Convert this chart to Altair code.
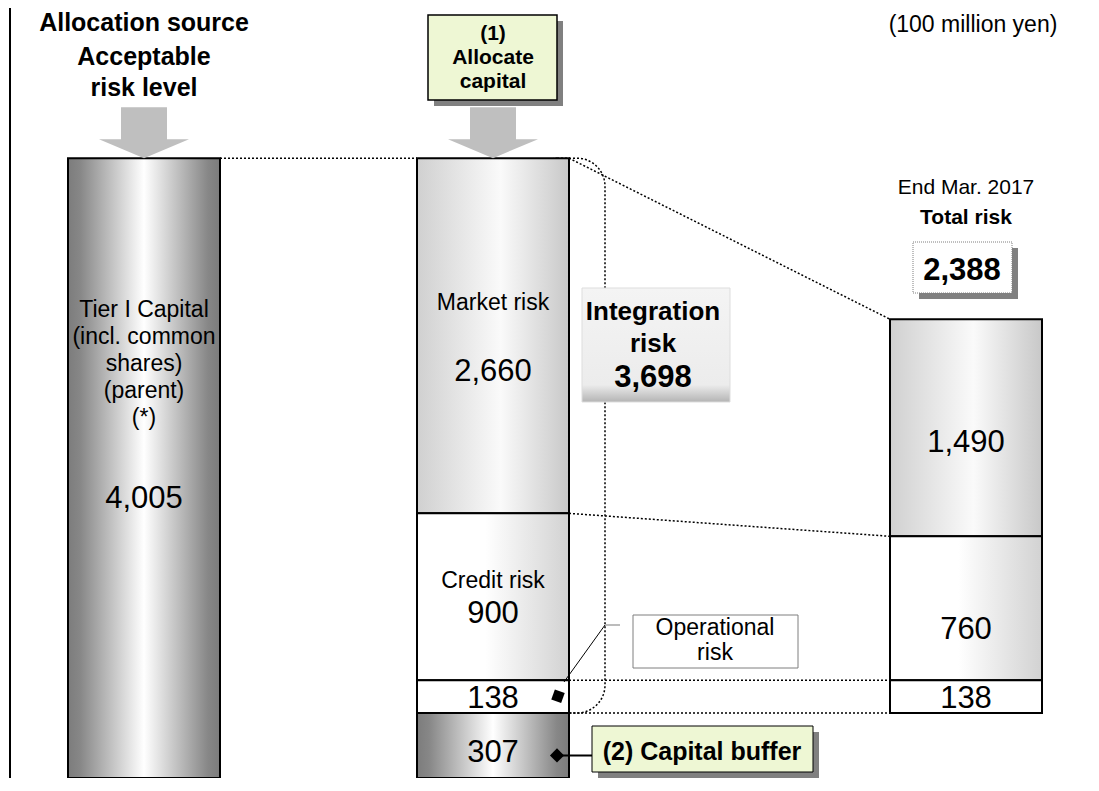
import altair as alt
import pandas as pd

# ---------------- data (100 million yen) ----------------
source_names = ["Tier I Capital"]
source_values = [4005]
alloc_names = ["Capital buffer", "Operational risk", "Credit risk", "Market risk"]
alloc_values = [307, 138, 900, 2660]
total_names = ["Operational risk", "Credit risk", "Market risk"]
total_values = [138, 760, 1490]
period_label = "End Mar. 2017"
unit_label = "(100 million yen)"

# ---------------- layout ----------------
W, H = 1083, 770
FONT = "Liberation Sans"
COLX = {"source": 136, "alloc": 485, "total": 958}
HALF = 76
STYLE = {"Tier I Capital": "dark", "Capital buffer": "dark", "Operational risk": "white",
         "Credit risk": "half", "Market risk": "light"}

rows = []


def add(col, names, values, base):
    s = base
    for n, v in zip(names, values):
        rows.append(dict(col=col, seg=n, value=v, start=s, end=s + v, mid=(2 * s + v) / 2,
                         x0=COLX[col] - HALF, x1=COLX[col] + HALF, cx=COLX[col],
                         style=STYLE[n], text=f"{v:,}"))
        s += v


add("source", source_names, source_values, 0)
add("alloc", alloc_names, alloc_values, 0)
add("total", total_names, total_values, alloc_values[0])
bars = pd.DataFrame(rows)

X = alt.Scale(domain=[0, W], nice=False, zero=False)
Y = alt.Scale(type="pow", exponent=0.7, domain=[86, 5357], clamp=True, nice=False, zero=False)


def gx(stops):
    return alt.Gradient(gradient="linear", x1=0, x2=1, y1=0, y2=0,
                        stops=[alt.GradientStop(color=c, offset=o) for o, c in stops])


GRAD = {
    "dark": gx([(0, "#7c7c7c"), (0.08, "#878787"), (0.5, "#ffffff"), (0.92, "#878787"), (1, "#7c7c7c")]),
    "light": gx([(0, "#d0d0d0"), (0.55, "#fafafa"), (1, "#c8c8c8")]),
    "half": gx([(0, "#ffffff"), (0.45, "#ffffff"), (1, "#d2d2d2")]),
    "white": "#ffffff",
}

one = pd.DataFrame({"k": [0]})


def box(x0, y0, x1, y1, **mk):
    return alt.Chart(one).mark_rect(**mk).encode(
        x=alt.value(x0), x2=alt.value(x1), y=alt.value(y0), y2=alt.value(y1))


def label(text, x, y, size, bold=False, align="center", line_height=None):
    kw = dict(text=text, font=FONT, fontSize=size, fontWeight="bold" if bold else "normal",
              align=align, baseline="alphabetic", color="black")
    if line_height:
        kw["lineHeight"] = line_height
    return alt.Chart(one).mark_text(**kw).encode(x=alt.value(x), y=alt.value(y))


def seg_line(x0, y0, x1, y1, color="black", width=1.0, dash=None):
    kw = dict(color=color, strokeWidth=width)
    if dash:
        kw["strokeDash"] = dash
    return alt.Chart(one).mark_rule(**kw).encode(
        x=alt.value(x0), y=alt.value(y0), x2=alt.value(x1), y2=alt.value(y1))


def seg_text(col, seg, dy, size, text=None, bold=False, line_height=None):
    sub = bars[(bars.col == col) & (bars.seg == seg)]
    kw = dict(font=FONT, fontSize=size, fontWeight="bold" if bold else "normal",
              align="center", baseline="alphabetic", dy=dy, color="black")
    if line_height:
        kw["lineHeight"] = line_height
    if text is not None:
        kw["text"] = text
    enc = dict(x=alt.X("cx:Q", scale=X, axis=None), y=alt.Y("mid:Q", scale=Y, axis=None))
    if text is None:
        enc["text"] = alt.Text("text:N")
    return alt.Chart(sub).mark_text(**kw).encode(**enc)


layers = []

# frame line on the left
layers.append(alt.Chart(one).mark_rule(color="black", strokeWidth=2).encode(
    x=alt.value(2), y=alt.value(0), y2=alt.value(H)))

# dotted bracket around the integrated risks
a_top = sum(alloc_values)
bracket = pd.DataFrame([dict(x0=COLX["alloc"] + HALF - 40, x1=COLX["alloc"] + HALF + 36,
                             y0=alloc_values[0], y1=a_top)])
layers.append(alt.Chart(bracket).mark_rect(fill="transparent", stroke="black", strokeWidth=1.5,
                                           strokeDash=[2, 2], cornerRadius=28).encode(
    x=alt.X("x0:Q", scale=X, axis=None), x2="x1:Q",
    y=alt.Y("y0:Q", scale=Y, axis=None), y2="y1:Q"))

# dotted connectors
al = bars[bars.col == "alloc"].set_index("seg")
tl = bars[bars.col == "total"].set_index("seg")
aR, tL = COLX["alloc"] + HALF, COLX["total"] - HALF
conn = pd.DataFrame([
    dict(id="A", x=COLX["source"] + HALF, y=source_values[0]), dict(id="A", x=COLX["alloc"] - HALF, y=a_top),
    dict(id="B", x=aR, y=al.loc["Market risk", "end"]), dict(id="B", x=tL, y=tl.loc["Market risk", "end"]),
    dict(id="C", x=aR, y=al.loc["Market risk", "start"]), dict(id="C", x=tL, y=tl.loc["Market risk", "start"]),
    dict(id="D", x=aR, y=al.loc["Credit risk", "start"]), dict(id="D", x=tL, y=tl.loc["Credit risk", "start"]),
    dict(id="E", x=aR, y=al.loc["Operational risk", "start"]), dict(id="E", x=tL, y=tl.loc["Operational risk", "start"]),
])
layers.append(alt.Chart(conn).mark_line(color="black", strokeWidth=1.5, strokeDash=[2, 2]).encode(
    x=alt.X("x:Q", scale=X, axis=None), y=alt.Y("y:Q", scale=Y, axis=None), detail="id:N"))

# bars
for style, fill in GRAD.items():
    layers.append(alt.Chart(bars[bars["style"] == style]).mark_rect(
        fill=fill, stroke="black", strokeWidth=2).encode(
        x=alt.X("x0:Q", scale=X, axis=None), x2="x1:Q",
        y=alt.Y("start:Q", scale=Y, axis=None), y2="end:Q"))

# bar labels
layers += [
    seg_text("source", "Tier I Capital", -97, 23,
             text=["Tier I Capital", "(incl. common", "shares)", "(parent)", "(*)"], line_height=27),
    seg_text("source", "Tier I Capital", 94, 31),
    seg_text("alloc", "Market risk", -12, 23, text="Market risk"),
    seg_text("alloc", "Market risk", 59, 31),
    seg_text("alloc", "Credit risk", -2, 23, text="Credit risk"),
    seg_text("alloc", "Credit risk", 33, 31),
    seg_text("alloc", "Operational risk", 12, 31),
    seg_text("alloc", "Capital buffer", 7, 31),
    seg_text("total", "Market risk", 31, 31),
    seg_text("total", "Credit risk", 36, 31),
    seg_text("total", "Operational risk", 12, 31),
]

# grey arrows on top of the first two columns
ARROW = "M 0 0 L -1 -0.422 L -0.511 -0.422 L -0.511 -1.133 L 0.511 -1.133 L 0.511 -0.422 L 1 -0.422 Z"
tops = bars[bars.col.isin(["source", "alloc"])].groupby("col", as_index=False).agg(cx=("cx", "first"), top=("end", "max"))
layers.append(alt.Chart(tops).mark_point(shape=ARROW, size=8100, filled=True, color="#bfbfbf",
                                         opacity=1, strokeWidth=0).encode(
    x=alt.X("cx:Q", scale=X, axis=None), y=alt.Y("top:Q", scale=Y, axis=None)))

# headings
layers += [
    label("Allocation source", 136, 23, 25, bold=True),
    label("Acceptable", 136, 57, 25, bold=True),
    label("risk level", 136, 88, 25, bold=True),
    label(unit_label, 965, 24, 23),
]

# (1) Allocate capital
layers += [
    box(426, 13, 555, 98, fill="#808080"),
    box(420, 7, 549, 92, fill="#eef7d4", stroke="black", strokeWidth=1.5),
    label(["(1)", "Allocate", "capital"], 485, 32, 21, bold=True, line_height=24),
]

# Total risk header
total_risk = sum(total_values)
layers += [
    label(period_label, 958, 186, 21),
    label("Total risk", 958, 216, 21, bold=True),
    box(911, 240, 1010, 291, fill="#808080"),
    box(905, 234, 1004, 285, fill="white", stroke="#7f7f7f", strokeWidth=1, strokeDash=[1, 1]),
    label(f"{total_risk:,}", 954, 272, 31, bold=True),
]

# Integration risk box
integ = sum(alloc_values[1:])
igrad = alt.Gradient(gradient="linear", x1=0, x2=0, y1=0, y2=1,
                     stops=[alt.GradientStop(color="#f4f4f4", offset=0),
                            alt.GradientStop(color="#ececec", offset=0.85),
                            alt.GradientStop(color="#b4b4b4", offset=1)])
layers += [
    box(574, 280, 722, 394, fill=igrad, stroke="#dddddd", strokeWidth=1),
    label(["Integration", "risk"], 645, 312, 26, bold=True, line_height=32),
    label(f"{integ:,}", 645, 379, 31, bold=True),
]

# Operational risk callout
op = bars[(bars.col == "alloc") & (bars.seg == "Operational risk")]
layers += [
    box(625, 607, 790, 660, fill="white", stroke="#7f7f7f", strokeWidth=1),
    label(["Operational", "risk"], 707, 627, 23, line_height=25),
    seg_line(556, 674, 597, 617, color="black", width=1),
    seg_line(597, 617, 612, 617, color="#a6a6a6", width=1.5),
    alt.Chart(op).mark_point(shape="square", filled=True, color="black", opacity=1,
                             size=110, angle=20).encode(
        x=alt.value(550), y=alt.Y("mid:Q", scale=Y, axis=None)),
]

# Capital buffer callout
cb = bars[(bars.col == "alloc") & (bars.seg == "Capital buffer")]
layers += [
    alt.Chart(cb).mark_rule(color="black", strokeWidth=2).encode(
        x=alt.value(549), x2=alt.value(584), y=alt.Y("mid:Q", scale=Y, axis=None)),
    alt.Chart(cb).mark_point(shape="diamond", filled=True, color="black", opacity=1,
                             size=200).encode(
        x=alt.value(549), y=alt.Y("mid:Q", scale=Y, axis=None)),
    box(590, 724, 811, 770, fill="#808080"),
    box(584, 718, 805, 764, fill="#eef7d4", stroke="black", strokeWidth=1),
    label("(2) Capital buffer", 694, 752, 25, bold=True),
]

chart = alt.layer(*layers).properties(
    width=W, height=H, padding=0, autosize="none"
).configure_view(strokeWidth=0)

chart.save("out.html", embed_options={"renderer": "svg", "actions": False})
